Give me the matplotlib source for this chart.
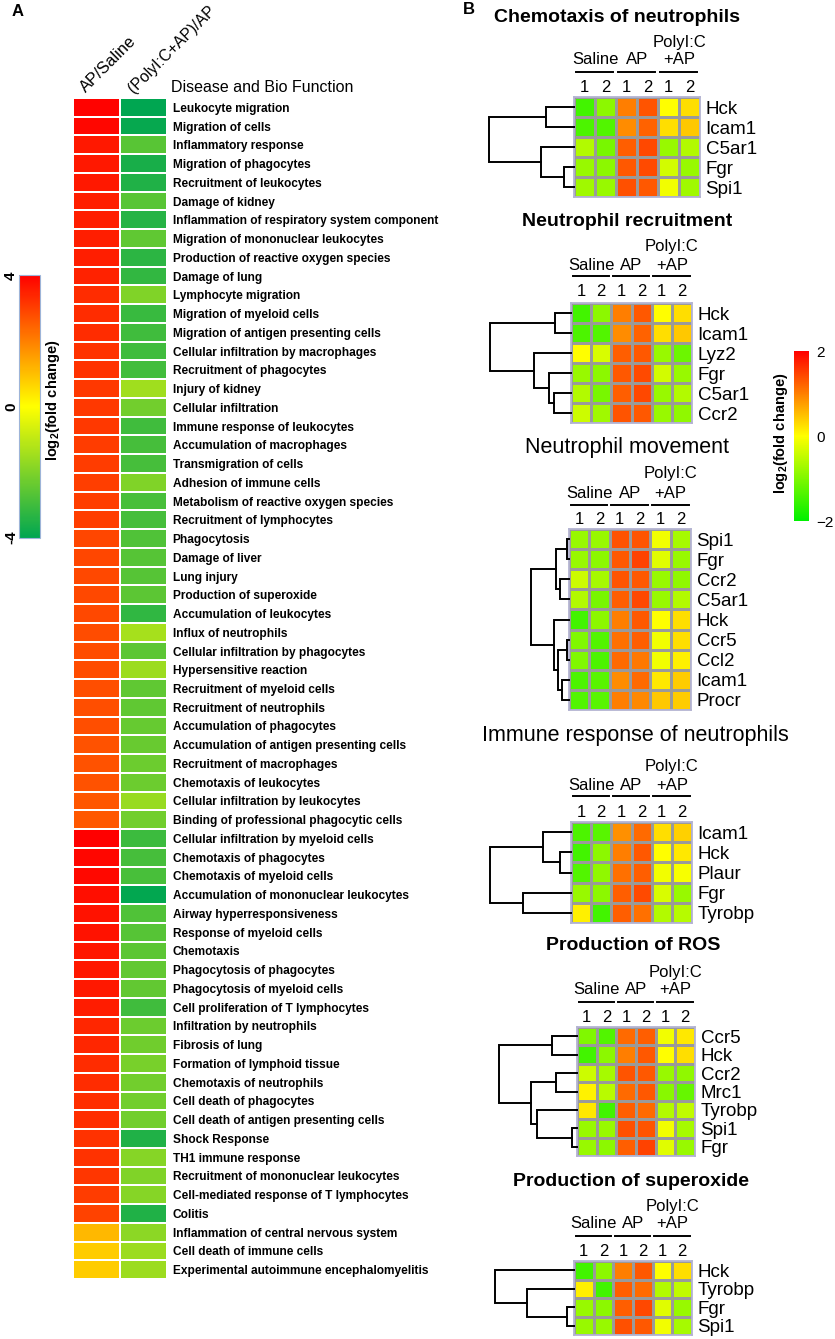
import numpy as np
import matplotlib
matplotlib.use('Agg')
import matplotlib.pyplot as plt
import matplotlib.transforms as mtrans
from matplotlib.colors import LinearSegmentedColormap

plt.rcParams['font.family'] = ['Liberation Sans', 'DejaVu Sans']
plt.rcParams['mathtext.fontset'] = 'custom'
plt.rcParams['mathtext.rm'] = 'Liberation Sans'
plt.rcParams['mathtext.bf'] = 'Liberation Sans:bold'

# ---------------- panel A data ----------------
functions = [
    "Leukocyte migration", "Migration of cells", "Inflammatory response",
    "Migration of phagocytes", "Recruitment of leukocytes", "Damage of kidney",
    "Inflammation of respiratory system component", "Migration of mononuclear leukocytes",
    "Production of reactive oxygen species", "Damage of lung", "Lymphocyte migration",
    "Migration of myeloid cells", "Migration of antigen presenting cells",
    "Cellular infiltration by macrophages", "Recruitment of phagocytes", "Injury of kidney",
    "Cellular infiltration", "Immune response of leukocytes", "Accumulation of macrophages",
    "Transmigration of cells", "Adhesion of immune cells", "Metabolism of reactive oxygen species",
    "Recruitment of lymphocytes", "Phagocytosis", "Damage of liver", "Lung injury",
    "Production of superoxide", "Accumulation of leukocytes", "Influx of neutrophils",
    "Cellular infiltration by phagocytes", "Hypersensitive reaction",
    "Recruitment of myeloid cells", "Recruitment of neutrophils", "Accumulation of phagocytes",
    "Accumulation of antigen presenting cells", "Recruitment of macrophages",
    "Chemotaxis of leukocytes", "Cellular infiltration by leukocytes",
    "Binding of professional phagocytic cells", "Cellular infiltration by myeloid cells",
    "Chemotaxis of phagocytes", "Chemotaxis of myeloid cells",
    "Accumulation of mononuclear leukocytes", "Airway hyperresponsiveness",
    "Response of myeloid cells", "Chemotaxis", "Phagocytosis of phagocytes",
    "Phagocytosis of myeloid cells", "Cell proliferation of T lymphocytes",
    "Infiltration by neutrophils", "Fibrosis of lung", "Formation of lymphoid tissue",
    "Chemotaxis of neutrophils", "Cell death of phagocytes",
    "Cell death of antigen presenting cells", "Shock Response", "TH1 immune response",
    "Recruitment of mononuclear leukocytes", "Cell-mediated response of T lymphocytes",
    "Colitis", "Inflammation of central nervous system", "Cell death of immune cells",
    "Experimental autoimmune encephalomyelitis",
]
ap_saline = [3.95, 3.9, 3.6, 3.6, 3.6, 3.5, 3.5, 3.5, 3.5, 3.45, 3.3, 3.3, 3.3, 3.2, 3.2,
             3.1, 3.1, 3.1, 3.05, 3.05, 3.0, 3.0, 3.0, 2.9, 2.9, 2.85, 2.85, 2.85, 2.8, 2.8,
             2.8, 2.75, 2.75, 2.75, 2.7, 2.7, 2.7, 2.65, 2.6, 4.0, 3.9, 3.85, 3.75, 3.7, 3.7,
             3.65, 3.6, 3.6, 3.55, 3.4, 3.4, 3.3, 3.3, 3.25, 3.25, 3.2, 3.2, 3.15, 3.05, 2.95,
             1.1, 0.8, 0.8]
polyic_ap = [-4.0, -3.9, -2.6, -3.6, -3.5, -2.6, -3.4, -2.5, -3.3, -3.2, -2.0, -3.1, -3.0,
             -3.0, -2.95, -1.5, -2.2, -3.0, -2.9, -2.9, -2.0, -2.85, -2.9, -2.75, -2.65, -2.65,
             -2.55, -3.25, -1.4, -2.55, -1.55, -2.5, -2.5, -2.4, -2.35, -2.3, -2.3, -1.6, -2.2,
             -3.05, -2.9, -2.85, -3.95, -2.75, -2.65, -2.55, -2.45, -2.45, -3.0, -2.3, -2.25,
             -2.1, -2.2, -2.2, -2.2, -3.5, -1.9, -2.0, -1.9, -3.5, -1.8, -1.55, -1.55]
ratio_labels = ["AP/Saline", "(PolyI:C+AP)/AP"]

# ---------------- panel B data ----------------
titles = ["Chemotaxis of neutrophils", "Neutrophil recruitment", "Neutrophil movement",
          "Immune response of neutrophils", "Production of ROS", "Production of superoxide"]
groups = ["Saline", "AP", "PolyI:C\n+AP"]
replicates = ["1", "2", "1", "2", "1", "2"]

genes = [
    ["Hck", "Icam1", "C5ar1", "Fgr", "Spi1"],
    ["Hck", "Icam1", "Lyz2", "Fgr", "C5ar1", "Ccr2"],
    ["Spi1", "Fgr", "Ccr2", "C5ar1", "Hck", "Ccr5", "Ccl2", "Icam1", "Procr"],
    ["Icam1", "Hck", "Plaur", "Fgr", "Tyrobp"],
    ["Ccr5", "Hck", "Ccr2", "Mrc1", "Tyrobp", "Spi1", "Fgr"],
    ["Hck", "Tyrobp", "Fgr", "Spi1"],
]
values = [
    [[-1.47, -0.9, 1.0, 1.33, 0.0, 0.25],
     [-1.4, -1.35, 0.9, 1.23, 0.25, 0.43],
     [-0.6, -1.05, 1.25, 1.43, -0.8, -0.6],
     [-0.8, -0.9, 1.3, 1.42, -0.35, -0.8],
     [-0.75, -0.8, 1.37, 1.3, -0.1, -0.75]],
    [[-1.47, -0.9, 1.0, 1.3, 0.0, 0.25],
     [-1.4, -1.35, 0.9, 1.23, 0.25, 0.43],
     [0.0, -0.3, 1.25, 1.3, -0.8, -1.15],
     [-0.8, -0.9, 1.3, 1.42, -0.35, -0.8],
     [-0.6, -1.05, 1.25, 1.43, -0.8, -0.6],
     [-0.4, -0.75, 1.33, 1.3, -0.8, -0.87]],
    [[-0.8, -0.8, 1.35, 1.33, -0.1, -0.7],
     [-0.8, -0.9, 1.3, 1.47, -0.25, -0.8],
     [-0.4, -0.7, 1.33, 1.3, -0.8, -0.87],
     [-0.6, -1.05, 1.25, 1.43, -0.8, -0.6],
     [-1.47, -0.9, 1.0, 1.3, 0.0, 0.25],
     [-1.0, -1.35, 1.12, 1.25, -0.1, 0.25],
     [-1.0, -1.4, 1.17, 1.05, -0.1, 0.12],
     [-1.4, -1.3, 0.9, 1.17, 0.18, 0.4],
     [-1.35, -1.3, 1.0, 0.93, 0.43, 0.4]],
    [[-1.4, -1.3, 0.87, 1.17, 0.25, 0.37],
     [-1.47, -0.9, 1.0, 1.3, 0.0, 0.18],
     [-1.35, -0.87, 1.12, 1.25, -0.1, -0.05],
     [-0.8, -0.9, 1.25, 1.42, -0.3, -0.8],
     [0.12, -1.47, 1.25, 1.12, -0.6, -0.57]],
    [[-1.0, -1.35, 1.17, 1.25, -0.1, 0.18],
     [-1.47, -0.9, 1.0, 1.3, 0.0, 0.25],
     [-0.4, -0.7, 1.33, 1.3, -0.8, -0.87],
     [0.1, -0.55, 1.17, 1.3, -0.93, -1.2],
     [0.18, -1.47, 1.25, 1.17, -0.6, -0.5],
     [-0.8, -0.8, 1.37, 1.33, -0.1, -0.7],
     [-0.8, -0.9, 1.25, 1.47, -0.25, -0.8]],
    [[-1.47, -0.9, 1.0, 1.3, 0.0, 0.25],
     [0.12, -1.47, 1.25, 1.17, -0.6, -0.5],
     [-0.8, -0.9, 1.25, 1.43, -0.25, -0.8],
     [-0.8, -0.8, 1.37, 1.3, -0.1, -0.7]],
]
# dendrogram merges: (node a, node b, height); new node ids follow the leaves
links = [
    [(0, 1, 28), (3, 4, 10), (2, 6, 33), (5, 7, 85)],
    [(0, 1, 16), (4, 5, 17), (3, 7, 22), (2, 8, 37), (6, 9, 81)],
    [(0, 1, 2), (2, 3, 9), (9, 10, 13), (5, 6, 1.5), (7, 8, 7), (12, 13, 11),
     (4, 14, 15), (11, 15, 38)],
    [(1, 2, 11), (0, 5, 28), (3, 4, 48), (6, 7, 81)],
    [(0, 1, 25), (2, 3, 21), (5, 6, 5), (4, 9, 40), (8, 10, 46), (7, 11, 78)],
    [(2, 3, 7), (1, 4, 47), (0, 5, 79)],
]

# ---------------- figure ----------------
W, H = 835, 1339
fig = plt.figure(figsize=(W / 100, H / 100), dpi=100)


def box(x0, y0, x1, y1):
    return fig.add_axes([x0 / W, 1 - y1 / H, (x1 - x0) / W, (y1 - y0) / H])


def put(x, y, s, **kw):
    return fig.text(x / W, 1 - y / H, s, **kw)


cmap_a = LinearSegmentedColormap.from_list('a', ['#00a651', '#ffff00', '#ff0000'])
cmap_b = LinearSegmentedColormap.from_list('b', ['#00f000', '#ffff00', '#ff0000'])

# panel A heatmap
ax = box(73, 98, 167, 1279)
mat = np.column_stack([ap_saline, polyic_ap])
mesh_a = ax.pcolormesh(mat, cmap=cmap_a, vmin=-4, vmax=4, edgecolors='white', linewidth=1.3)
ax.set_xlim(0, 2)
ax.set_ylim(len(functions), 0)
ax.set_xticks([])
ax.set_yticks(np.arange(len(functions)) + 0.5, functions, fontsize=8.6, fontweight='bold')
ax.yaxis.tick_right()
ax.tick_params(length=0, pad=4)
for s in ax.spines.values():
    s.set_visible(False)

put(86, 93, ratio_labels[0], rotation=45, rotation_mode='anchor', ha='left', va='baseline', fontsize=11.8)
put(134, 94, ratio_labels[1], rotation=45, rotation_mode='anchor', ha='left', va='baseline', fontsize=11.3)
put(171, 87, "Disease and Bio Function", fontsize=11.5, va='center')
put(18, 11, "A", fontsize=12, fontweight='bold', ha='center', va='center')

cax = box(19, 275, 40, 538)
cb = fig.colorbar(mesh_a, cax=cax)
cb.set_ticks([])
cb.outline.set_edgecolor('#9db4d8')
for v, ty in zip([4, 0, -4], [276, 407, 537]):
    put(11, ty, str(v), rotation=90, fontsize=11, fontweight='bold', ha='center', va='center')
put(53, 400, r'log$_\mathbf{2}$(fold change)', rotation=90, fontsize=10.5, fontweight='bold',
    ha='center', va='center')

# panel B
put(469, 10, "B", fontsize=12, fontweight='bold', ha='center', va='center')

# grid box, dendrogram left, title pos, header rows (pixels)
layout = [
    dict(grid=(574, 700, 97, 197), dl=489, tx=617, ty=17, py=42, gy=60, ly=72, ny=87, bold=True),
    dict(grid=(571, 692, 303, 423), dl=490, tx=627, ty=221, py=246, gy=265, ly=276, ny=291, bold=True),
    dict(grid=(569, 691, 529, 710), dl=531, tx=627, ty=448, py=474, gy=493, ly=505, ny=519, bold=False),
    dict(grid=(571, 692, 822, 923), dl=490, tx=635, ty=735, py=767, gy=785, ly=796, ny=812, bold=False),
    dict(grid=(577, 695, 1027, 1156), dl=499, tx=633, ty=945, py=972, gy=990, ly=1002, ny=1017, bold=True),
    dict(grid=(574, 692, 1261, 1335), dl=495, tx=631, ty=1181, py=1207, gy=1224, ly=1236, ny=1252, bold=True),
]

mesh_b = None
for lay, title, g, vals, lk in zip(layout, titles, genes, values, links):
    x0, x1, y0, y1 = lay['grid']
    n = len(g)
    ax = box(x0, y0, x1, y1)
    mesh_b = ax.pcolormesh(np.array(vals), cmap=cmap_b, vmin=-2, vmax=2,
                           edgecolors='#9a9a9a', linewidth=1.0)
    ax.set_xlim(0, 6)
    ax.set_ylim(n, 0)
    ax.set_xticks([])
    ax.set_yticks(np.arange(n) + 0.5, g, fontsize=13.5)
    ax.yaxis.tick_right()
    ax.tick_params(length=0, pad=4)
    for s in ax.spines.values():
        s.set_edgecolor('#b4b4d2')
        s.set_linewidth(1.3)

    tr = mtrans.blended_transform_factory(ax.transData, fig.transFigure)
    fy = lambda p: 1 - p / H
    for k, name in enumerate(groups):
        c = 2 * k + 1
        lines = name.split('\n')
        ax.text(c, fy(lay['gy']), lines[-1], transform=tr, ha='center', va='center', fontsize=12)
        if len(lines) > 1:
            ax.text(c, fy(lay['py']), lines[0], transform=tr, ha='center', va='center', fontsize=12)
        ax.plot([c - 0.92, c + 0.88], [fy(lay['ly'])] * 2, transform=tr, color='black',
                lw=1.4, clip_on=False)
    for j, r in enumerate(replicates):
        ax.text(j + 0.5, fy(lay['ny']), r, transform=tr, ha='center', va='center', fontsize=12)

    put(lay['tx'], lay['ty'], title, fontsize=14 if lay['bold'] else 15.5,
        fontweight='bold' if lay['bold'] else 'normal', ha='center', va='center')

    # dendrogram
    span = x0 - lay['dl'] + 10
    dax = box(x0 - span, y0, x0, y1)
    dax.set_xlim(span, 0)
    dax.set_ylim(n, 0)
    dax.axis('off')
    pos = {i: (i + 0.5, 0.0) for i in range(n)}
    for k, (a, b, h) in enumerate(lk):
        ya, ha_ = pos[a]
        yb, hb = pos[b]
        dax.plot([ha_, h, h, hb], [ya, ya, yb, yb], color='black', lw=1.4,
                 solid_joinstyle='miter', clip_on=False)
        pos[n + k] = ((ya + yb) / 2, h)

cbx = box(794, 351, 809, 521)
cb2 = fig.colorbar(mesh_b, cax=cbx, ticks=[-2, 0, 2])
cb2.outline.set_visible(False)
cbx.tick_params(length=0, labelsize=11, pad=5)
put(781, 433, r'log$_\mathbf{2}$(fold change)', rotation=90, fontsize=10.5, fontweight='bold',
    ha='center', va='center')

fig.savefig('out.png', dpi=100)
